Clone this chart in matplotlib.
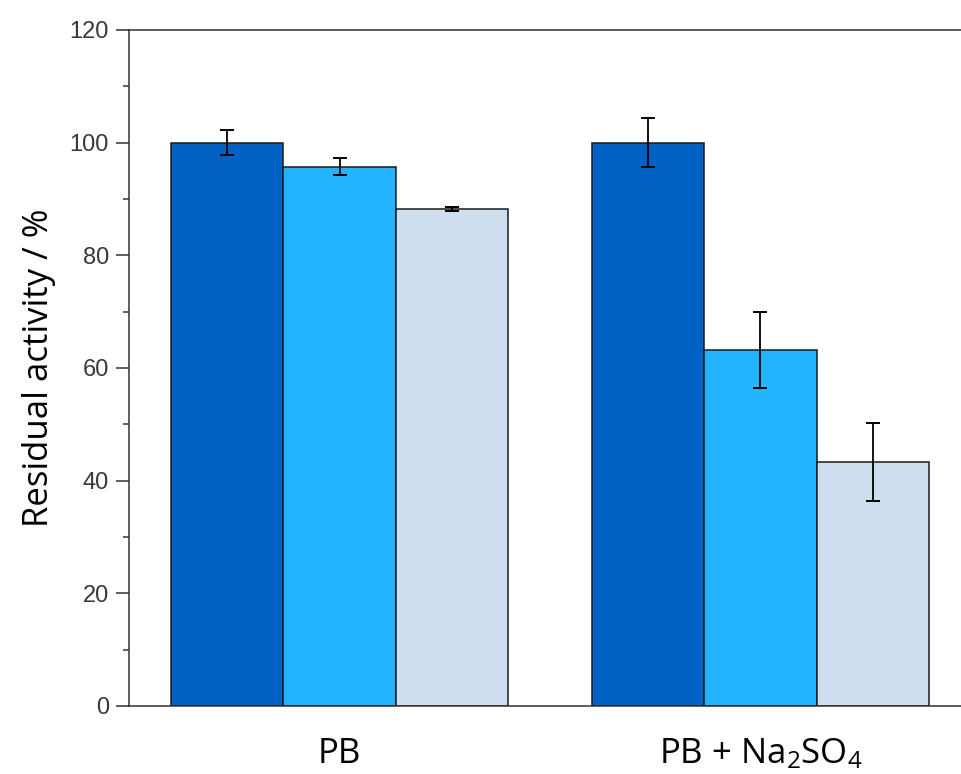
import numpy as np
import matplotlib
matplotlib.use('Agg')
import matplotlib.pyplot as plt

plt.rcParams['mathtext.fontset'] = 'custom'
plt.rcParams['mathtext.rm'] = 'Open Sans'

groups = ['PB', 'PB + Na$\\mathregular{_2}$SO$\\mathregular{_4}$']
series1 = [100.0, 100.0]
series1_err = [2.2, 4.3]
series2 = [95.7, 63.2]
series2_err = [1.5, 6.7]
series3 = [88.2, 43.3]
series3_err = [0.4, 6.9]

colors = ['#0062c4', '#24b3ff', '#cfdeee']

fig = plt.figure(figsize=(9.62, 7.74), dpi=100)
ax = fig.add_axes([129 / 962, 68 / 774, 842 / 962, 676 / 774])

x = np.arange(1, len(groups) + 1)
w = 0.267
for i, (vals, errs) in enumerate([(series1, series1_err), (series2, series2_err), (series3, series3_err)]):
    ax.bar(x + (i - 1) * w, vals, width=w, color=colors[i], edgecolor='#1a1a1a', linewidth=1.1, zorder=2)
    ax.errorbar(x + (i - 1) * w, vals, yerr=errs, fmt='none', ecolor='black', elinewidth=1.3,
                capsize=5.0, capthick=1.4, zorder=3)

ax.set_xlim(0.5, 2.5)
ax.set_ylim(0, 120)
ax.set_yticks(np.arange(0, 121, 20))
ax.set_yticks(np.arange(10, 120, 20), minor=True)
ax.set_xticks(x)
ax.set_xticklabels(groups, fontsize=25, fontfamily='Open Sans')
ax.tick_params(axis='x', length=0, pad=22)
ax.tick_params(axis='y', which='major', direction='out', length=9.5, width=1.1, color='#333333',
               labelsize=17, labelcolor='#383838', pad=5)
ax.tick_params(axis='y', which='minor', direction='out', length=4.5, width=1.1, color='#333333')
for lbl in ax.get_yticklabels():
    lbl.set_fontfamily('Liberation Sans')

ax.set_ylabel('Residual activity / %', fontsize=25, fontfamily='Open Sans', labelpad=10)

ax.spines['right'].set_visible(False)
for s in ['left', 'top', 'bottom']:
    ax.spines[s].set_linewidth(1.1)
    ax.spines[s].set_color('#333333')

plt.savefig('out.png', dpi=100)
